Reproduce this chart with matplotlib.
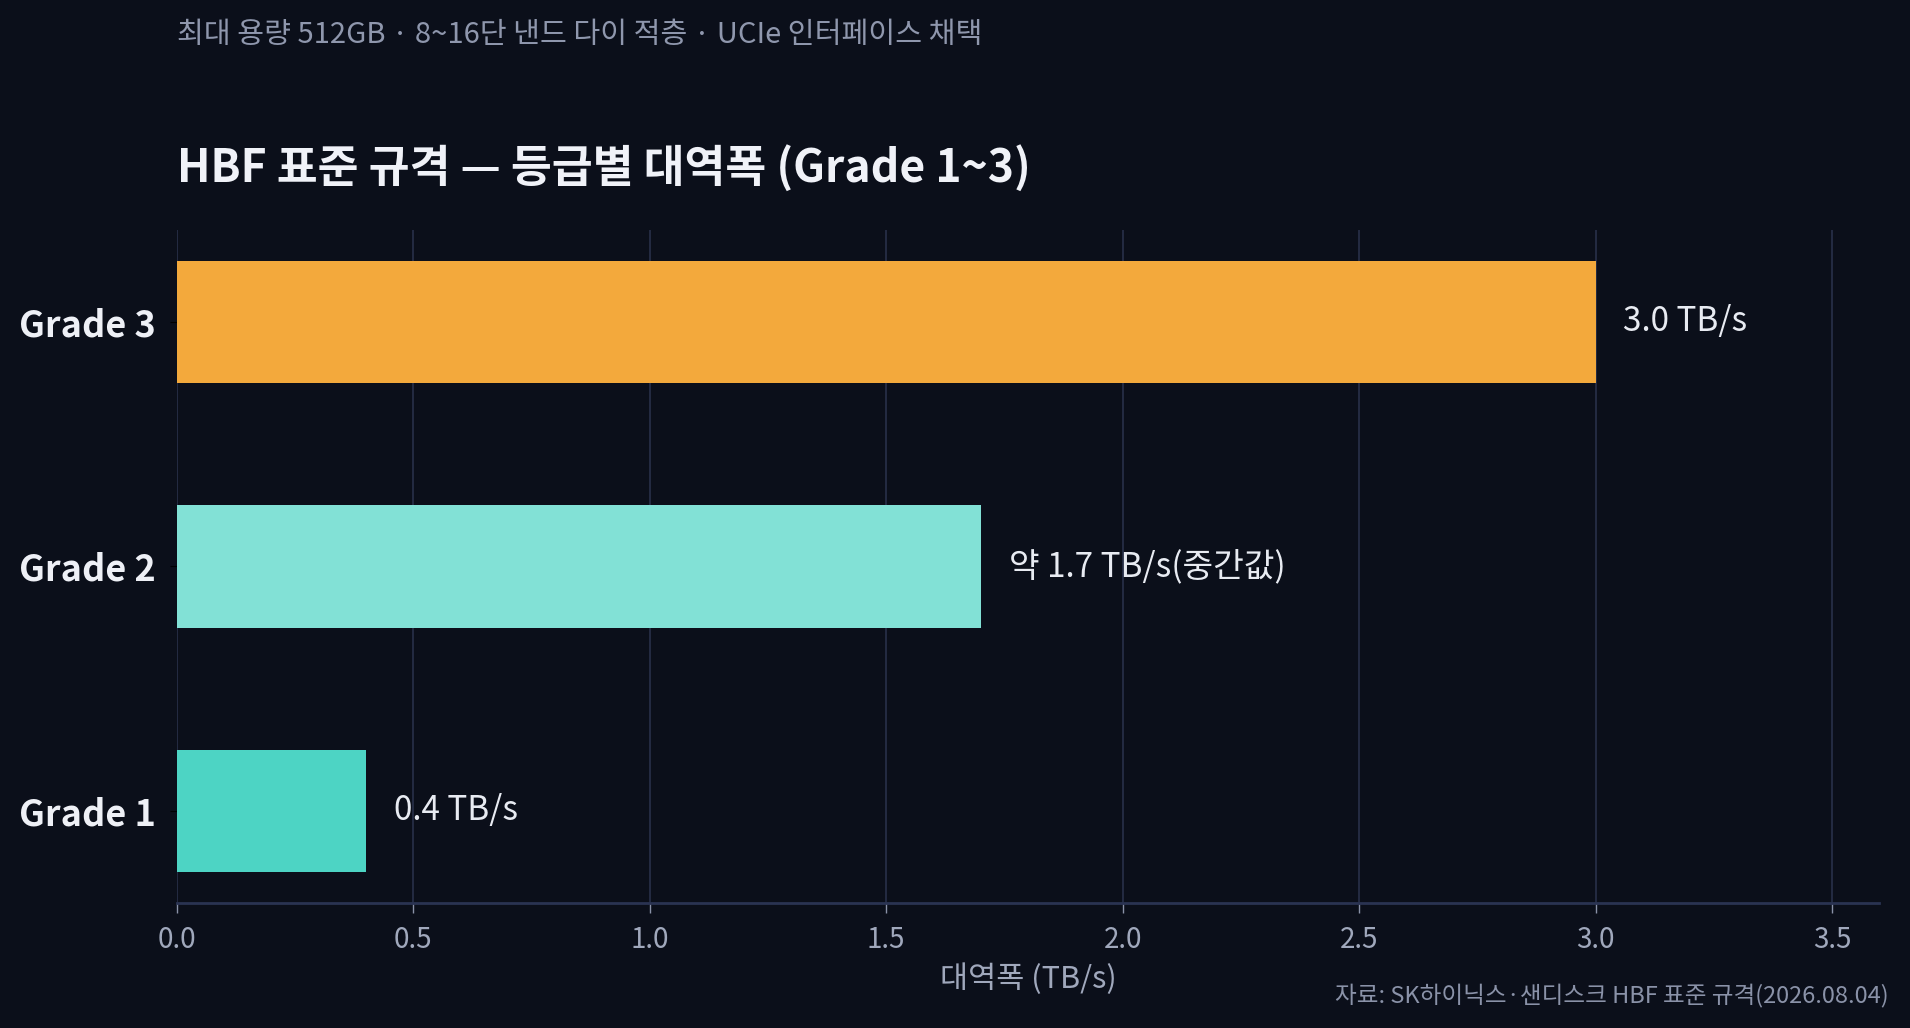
import numpy as np
import matplotlib
matplotlib.use('Agg')
import matplotlib.pyplot as plt

plt.rcParams['font.family'] = ['Noto Sans CJK KR', 'DejaVu Sans']

# data
grades = ['Grade 1', 'Grade 2', 'Grade 3']
bandwidth = [0.4, 1.7, 3.0]
value_labels = ['0.4 TB/s', '약 1.7 TB/s(중간값)', '3.0 TB/s']
bar_colors = ['#4dd4c4', '#82e1d6', '#f3a93c']
x_ticks = [0.0, 0.5, 1.0, 1.5, 2.0, 2.5, 3.0, 3.5]

bg = '#0b0f1a'
fig = plt.figure(figsize=(19.1, 10.28), dpi=100, facecolor=bg)
ax = fig.add_axes([0.0925, 0.122, 0.8915, 0.654])
ax.set_facecolor(bg)

y = np.arange(len(grades))
ax.barh(y, bandwidth, height=0.5, color=bar_colors, zorder=2)

for yi, val, lab in zip(y, bandwidth, value_labels):
    ax.annotate(lab, xy=(val, yi), xytext=(20, 0), textcoords='offset points',
                va='center', ha='left', fontsize=24, color='#e8ebf2')

ax.set_xlim(0, 3.6)
ax.set_xticks(x_ticks)
ax.set_xticklabels([f'{t:.1f}' for t in x_ticks])
ax.set_yticks(y)
ax.set_yticklabels(grades, fontsize=26, fontweight='bold', color='#eef0f6')
ax.tick_params(axis='y', length=5, color='#000000', pad=10)
ax.tick_params(axis='x', labelsize=20, labelcolor='#a0a8bc', color='#8a92a8',
               length=7, width=1, pad=9)

ax.grid(axis='x', color='#283049', linewidth=1.2, zorder=0)
ax.set_axisbelow(True)
for s in ['top', 'right', 'left']:
    ax.spines[s].set_visible(False)
ax.spines['bottom'].set_color('#2a3352')
ax.spines['bottom'].set_linewidth(2)

ax.set_xlabel('대역폭 (TB/s)', fontsize=22, color='#a0a8bc', labelpad=6)

fig.text(0.0925, 0.836, 'HBF 표준 규격 — 등급별 대역폭 (Grade 1~3)', fontsize=32,
         fontweight='bold', color='#f0f2f8', ha='left', va='center')
fig.text(0.0925, 0.966, '최대 용량 512GB · 8~16단 낸드 다이 적층 · UCIe 인터페이스 채택',
         fontsize=21, color='#8f97ad', ha='left', va='center')
fig.text(0.989, 0.032, '자료: SK하이닉스·샌디스크 HBF 표준 규격(2026.08.04)',
         fontsize=17, color='#8a92a8', ha='right', va='center')

fig.savefig('out.png', facecolor=bg)
